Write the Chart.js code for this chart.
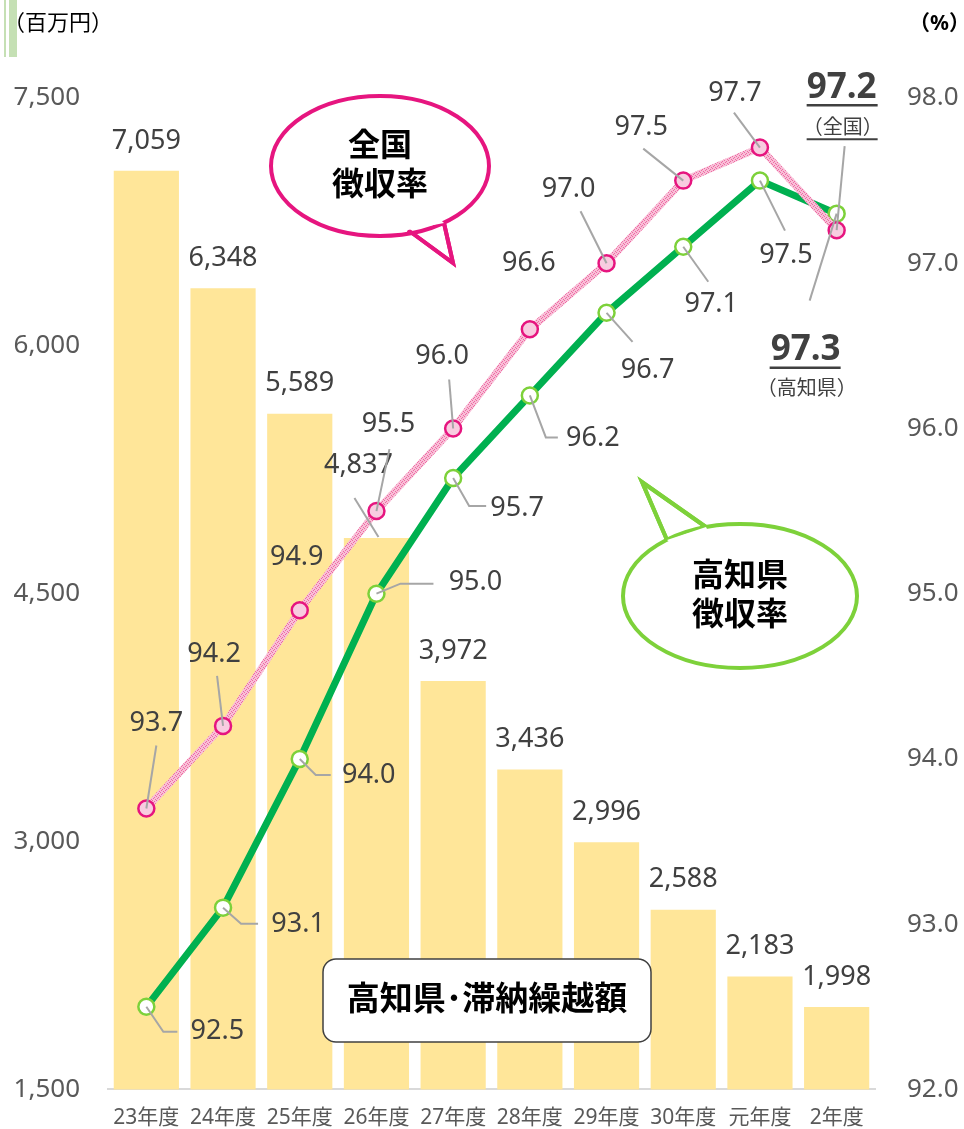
<!DOCTYPE html>
<html>
<head>
<meta charset="utf-8">
<script src="https://cdn.jsdelivr.net/npm/chart.js@4/dist/chart.umd.min.js"></script>
<style>
  body { margin: 0; background: #fff; }
  canvas { display: block; }
</style>
</head>
<body>
<canvas id="taxChart" width="964" height="1129"></canvas>
<script>
// data
var years = ['23年度', '24年度', '25年度', '26年度', '27年度', '28年度', '29年度', '30年度', '元年度', '2年度'];
var arrears = [7059, 6348, 5589, 4837, 3972, 3436, 2996, 2588, 2183, 1998];
var nationalRate = [93.7, 94.2, 94.9, 95.5, 96.0, 96.6, 97.0, 97.5, 97.7, 97.2];
var kochiRate = [92.5, 93.1, 94.0, 95.0, 95.7, 96.2, 96.7, 97.1, 97.5, 97.3];
var leftTicks = [1500, 3000, 4500, 6000, 7500];
var rightTicks = [92, 93, 94, 95, 96, 97, 98];

var FONT = '"Noto Sans", "Noto Sans CJK JP", sans-serif';
var LABEL_COLOR = '#404040';
var LEADER_COLOR = '#A6A6A6';

// label placement (offsets from the point, in px) - styling only
var natOffsets = [[10,-85],[-9,-72],[-3,-53],[12,-87],[-11,-72],[-1,-66],[-38,-74],[-42,-53],[-25,-54],[5,-142]];
var natLeaders = [[[10,-63]],[[-6,-50]],null,[[13,-62]],[[-4,-49]],null,[[-26,-52]],[[-40,-32]],[[-26,-35]],[[8,-84]]];
var kochiOffsets = [[71,25],[75,17],[69,16],[99,-11],[64,30],[63,43],[41,58],[28,58],[26,75],[-31,136]];
var kochiLeaders = [[[17,25],[31,25]],[[18,16],[35,16]],[[16,16],[31,16]],[[24,-10],[57,-10]],[[16,28],[33,28]],[[16,42],[28,42]],[[26,29]],[[25,35]],[[25,50]],[[-27,87]]];

function makeHatch() {
  var c = document.createElement('canvas');
  c.width = 4; c.height = 4;
  var g = c.getContext('2d');
  g.fillStyle = '#F8BFD7';
  g.fillRect(0, 0, 4, 4);
  g.fillStyle = '#EE6AA3';
  g.fillRect(0, 0, 1, 1); g.fillRect(2, 1, 1, 1); g.fillRect(1, 2, 1, 1); g.fillRect(3, 3, 1, 1);
  return g.createPattern(c, 'repeat');
}

function leader(ctx, x, y, pts) {
  if (!pts) return;
  ctx.save();
  ctx.strokeStyle = LEADER_COLOR;
  ctx.lineWidth = 2;
  ctx.beginPath();
  ctx.moveTo(x, y);
  pts.forEach(function(p) { ctx.lineTo(x + p[0], y + p[1]); });
  ctx.stroke();
  ctx.restore();
}

function text(ctx, str, x, y, size, bold, color) {
  ctx.font = (bold ? 'bold ' : '') + size + 'px ' + FONT;
  ctx.fillStyle = color || LABEL_COLOR;
  ctx.textAlign = 'center';
  ctx.textBaseline = 'middle';
  ctx.fillText(str, x, y);
}

function underline(ctx, x1, x2, y, w) {
  ctx.save();
  ctx.strokeStyle = LABEL_COLOR;
  ctx.lineWidth = w;
  ctx.beginPath();
  ctx.moveTo(x1, y); ctx.lineTo(x2, y);
  ctx.stroke();
  ctx.restore();
}

function bubble(ctx, cx, cy, rx, ry, tail, color, lines) {
  ctx.save();
  ctx.lineWidth = 4;
  ctx.strokeStyle = color;
  ctx.fillStyle = '#fff';
  ctx.beginPath();
  ctx.moveTo(tail[0][0], tail[0][1]);
  ctx.lineTo(tail[1][0], tail[1][1]);
  ctx.lineTo(tail[2][0], tail[2][1]);
  ctx.closePath();
  ctx.fill();
  ctx.stroke();
  ctx.beginPath();
  ctx.ellipse(cx, cy, rx, ry, 0, 0, Math.PI * 2);
  ctx.fill();
  ctx.stroke();
  ctx.beginPath();
  ctx.moveTo(tail[0][0], tail[0][1]);
  ctx.lineTo(tail[1][0], tail[1][1]);
  ctx.lineTo(tail[2][0], tail[2][1]);
  ctx.stroke();
  ctx.beginPath();
  ctx.moveTo(tail[0][0], tail[0][1]);
  ctx.lineTo(tail[2][0], tail[2][1]);
  ctx.lineTo(cx, cy);
  ctx.closePath();
  ctx.fill();
  ctx.restore();
  text(ctx, lines[0], cx, cy - 19, 32, true, '#000');
  text(ctx, lines[1], cx, cy + 20, 32, true, '#000');
}

var extras = {
  id: 'extras',
  afterDatasetsDraw: function(chart) {
    var ctx = chart.ctx;
    ctx.save();

    // bar labels
    var bars = chart.getDatasetMeta(0).data;
    bars.forEach(function(b, i) {
      var s = arrears[i].toLocaleString('en-US');
      if (i === 3) {
        leader(ctx, b.x - 22, b.y - 40, [[24, 39]]);
        text(ctx, s, b.x - 18, b.y - 73, 27, false);
      } else {
        text(ctx, s, b.x, b.y - 30, 27, false);
      }
    });

    var nat = chart.getDatasetMeta(1).data;
    var ko = chart.getDatasetMeta(2).data;
    nat.forEach(function(p, i) { leader(ctx, p.x, p.y, natLeaders[i]); });
    ko.forEach(function(p, i) { leader(ctx, p.x, p.y, kochiLeaders[i]); });

    nat.forEach(function(p, i) {
      var tx = p.x + natOffsets[i][0], ty = p.y + natOffsets[i][1];
      if (i === nat.length - 1) {
        text(ctx, nationalRate[i].toFixed(1), tx, ty, 35, true);
        underline(ctx, tx - 35, tx + 36, ty + 17, 2.5);
        text(ctx, '（全国）', tx + 1, ty + 40, 20, false);
        underline(ctx, tx - 35, tx + 36, ty + 51, 2);
      } else {
        text(ctx, nationalRate[i].toFixed(1), tx, ty, 27, false);
      }
    });
    ko.forEach(function(p, i) {
      var tx = p.x + kochiOffsets[i][0], ty = p.y + kochiOffsets[i][1];
      if (i === ko.length - 1) {
        text(ctx, kochiRate[i].toFixed(1), tx, ty, 35, true);
        underline(ctx, tx - 36, tx + 35, ty + 18, 2.5);
        text(ctx, '（高知県）', tx + 1, ty + 40, 20, false);
      } else {
        text(ctx, kochiRate[i].toFixed(1), tx, ty, 27, false);
      }
    });

    // callouts
    bubble(ctx, 380, 166, 109, 70, [[408, 230], [453, 263], [444, 223]], '#E6157F', ['全国', '徴収率']);
    bubble(ctx, 740, 596, 117, 72, [[667, 540], [642, 482], [706, 527]], '#7DD13A', ['高知県', '徴収率']);

    // box
    ctx.beginPath();
    ctx.roundRect(323, 959, 328, 83, 13);
    ctx.fillStyle = '#fff';
    ctx.fill();
    ctx.lineWidth = 1.5;
    ctx.strokeStyle = '#404040';
    ctx.stroke();
    text(ctx, '高知県･滞納繰越額', 487, 1001, 33, true, '#000');

    // axis units
    ctx.fillStyle = '#C5E0B4';
    ctx.fillRect(9, 0, 8, 57);
    ctx.fillRect(4, 0, 2, 57);
    ctx.font = '22px ' + FONT;
    ctx.fillStyle = '#000';
    ctx.textAlign = 'left';
    ctx.textBaseline = 'middle';
    ctx.fillText('（百万円）', 3, 24);
    ctx.textAlign = 'right';
    ctx.font = 'bold 21px ' + FONT;
    ctx.fillText('（%）', 970, 24);
    ctx.restore();
  }
};

var ctx = document.getElementById('taxChart').getContext('2d');
var hatch = makeHatch();

new Chart(ctx, {
  type: 'bar',
  data: {
    labels: years,
    datasets: [{
      type: 'bar',
      label: '滞納繰越額',
      data: arrears,
      yAxisID: 'y',
      backgroundColor: '#FFE699',
      categoryPercentage: 1,
      barPercentage: 0.85,
      order: 3
    }, {
      type: 'line',
      label: '全国徴収率',
      data: nationalRate,
      yAxisID: 'y1',
      borderColor: hatch,
      borderWidth: 7,
      tension: 0,
      pointRadius: 8,
      pointBorderWidth: 2.5,
      pointBackgroundColor: '#F8CCE0',
      pointBorderColor: '#E6157F',
      order: 1
    }, {
      type: 'line',
      label: '高知県徴収率',
      data: kochiRate,
      yAxisID: 'y1',
      borderColor: '#00B050',
      borderWidth: 7,
      tension: 0,
      pointRadius: 8,
      pointBorderWidth: 2.5,
      pointBackgroundColor: '#FFFFFF',
      pointBorderColor: '#7DD13A',
      order: 2
    }]
  },
  options: {
    responsive: false,
    animation: false,
    layout: { padding: { top: 98, left: 0, right: 0, bottom: 0 } },
    plugins: {
      legend: { display: false },
      tooltip: { enabled: false }
    },
    scales: {
      x: {
        grid: { display: false },
        border: { display: true, color: '#D9D9D9', width: 2 },
        ticks: { color: '#595959', font: { size: 21, family: FONT }, padding: 8, maxRotation: 0 },
        afterFit: function(s) { s.height = 37; }
      },
      y: {
        position: 'left',
        min: 1500,
        max: 7500,
        grid: { display: false },
        border: { display: false },
        afterBuildTicks: function(s) { s.ticks = leftTicks.map(function(v) { return { value: v }; }); },
        ticks: {
          color: '#595959',
          font: { size: 26, family: FONT },
          padding: 20,
          callback: function(v) { return v.toLocaleString('en-US'); }
        },
        afterFit: function(s) { s.width = 108; }
      },
      y1: {
        position: 'right',
        min: 92,
        max: 98,
        grid: { display: false },
        border: { display: false },
        afterBuildTicks: function(s) { s.ticks = rightTicks.map(function(v) { return { value: v }; }); },
        ticks: {
          color: '#595959',
          font: { size: 26, family: FONT },
          padding: 24,
          callback: function(v) { return v.toFixed(1); }
        },
        afterFit: function(s) { s.width = 89; }
      }
    }
  },
  plugins: [extras]
});
</script>
</body>
</html>
